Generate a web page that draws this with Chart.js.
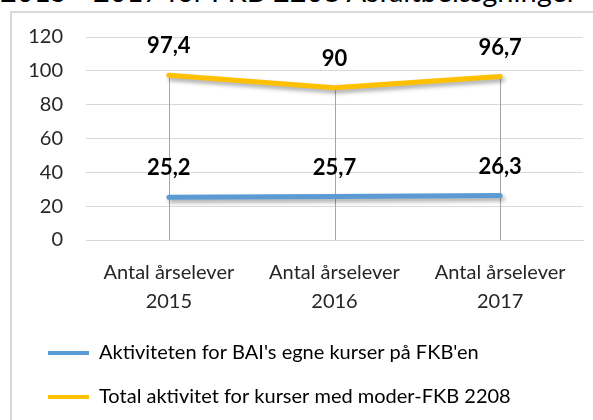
<!DOCTYPE html>
<html>
<head>
<meta charset="utf-8">
<script src="https://cdn.jsdelivr.net/npm/chart.js@4.4.0/dist/chart.umd.min.js"></script>
<style>
	html, body { margin: 0; padding: 0; width: 593px; height: 420px; overflow: hidden; background: #fff; }
	#title { position: absolute; left: 0; top: -23px; font: 29px/28px Lato, sans-serif; color: #000; white-space: nowrap; }
	#box { position: absolute; left: 10px; top: 11px; width: 600px; height: 420px; border-left: 2px solid #d9d9d9; border-top: 2px solid #d9d9d9; }
	#wrap { position: absolute; left: 0; top: 0; width: 581px; height: 404px; }
</style>
</head>
<body>
<div id="title">2015 - 2017 for FKB 2208 Asfaltbelægninger</div>
<div id="box"><div id="wrap"><canvas id="myChart"></canvas></div></div>
<script>
	// data
	const years = [ 'Antal årselever 2015', 'Antal årselever 2016', 'Antal årselever 2017' ];
	const yTicks = [ 0, 20, 40, 60, 80, 100, 120 ];
	const baiLabel = "Aktiviteten for BAI's egne kurser på FKB'en";
	const baiValues = [ 25.2, 25.7, 26.3 ];
	const totalLabel = 'Total aktivitet for kurser med moder-FKB 2208';
	const totalValues = [ 97.4, 90, 96.7 ];

	const FONT = 'Lato';

	// split "Antal årselever 2015" into two lines
	const labels = years.map((s) => {
		const i = s.lastIndexOf(' ');
		return [ s.slice(0, i), s.slice(i + 1) ];
	});

	// shadow under the lines, like excel
	const shadowPlugin = {
		id: 'shadow',
		beforeDatasetDraw(chart) {
			const ctx = chart.ctx;
			ctx.save();
			ctx.shadowColor = 'rgba(0,0,0,0.35)';
			ctx.shadowBlur = 4;
			ctx.shadowOffsetX = 2;
			ctx.shadowOffsetY = 3;
		},
		afterDatasetDraw(chart) {
			chart.ctx.restore();
		}
	};

	// drop lines from the highest point down to the axis
	const dropLines = {
		id: 'dropLines',
		beforeDatasetsDraw(chart) {
			const ctx = chart.ctx;
			const bottom = chart.chartArea.bottom;
			ctx.save();
			ctx.strokeStyle = '#a6a6a6';
			ctx.lineWidth = 1;
			for (let i = 0; i < labels.length; i++) {
				let top = bottom;
				chart.data.datasets.forEach((ds, d) => {
					const pt = chart.getDatasetMeta(d).data[i];
					if (pt.y < top) top = pt.y;
				});
				const x = Math.round(chart.getDatasetMeta(0).data[i].x) + 0.5;
				ctx.beginPath();
				ctx.moveTo(x, top);
				ctx.lineTo(x, bottom);
				ctx.stroke();
			}
			ctx.restore();
		}
	};

	// value labels above the points
	const valueLabels = {
		id: 'valueLabels',
		afterDatasetsDraw(chart) {
			const ctx = chart.ctx;
			ctx.save();
			ctx.font = 'bold 22px ' + FONT;
			ctx.fillStyle = '#000';
			ctx.textAlign = 'center';
			ctx.textBaseline = 'middle';
			chart.data.datasets.forEach((ds, d) => {
				chart.getDatasetMeta(d).data.forEach((pt, i) => {
					ctx.fillText(String(ds.data[i]).replace('.', ','), pt.x, pt.y - 29);
				});
			});
			ctx.restore();
		}
	};

	const ctx = document.getElementById('myChart').getContext('2d');
	const myChart = new Chart(ctx, {
		type: 'line',
		data: {
			labels,
			datasets: [
				{
					label: baiLabel,
					data: baiValues,
					borderColor: '#5b9bd5',
					backgroundColor: '#5b9bd5',
					borderWidth: 5,
					borderCapStyle: 'round',
					pointRadius: 0,
					tension: 0
				},
				{
					label: totalLabel,
					data: totalValues,
					borderColor: '#ffc000',
					backgroundColor: '#ffc000',
					borderWidth: 5,
					borderCapStyle: 'round',
					pointRadius: 0,
					tension: 0
				}
			]
		},
		options: {
			responsive: true,
			maintainAspectRatio: false,
			animation: false,
			layout: {
				padding: { left: 12, right: 10, top: 24, bottom: 0 }
			},
			scales: {
				x: {
					offset: true,
					afterFit: (scale) => {
						scale.height = 79;
						scale.paddingTop = 0;
						scale.paddingBottom = 0;
					},
					grid: { display: false, drawTicks: false },
					border: { display: true, color: '#d9d9d9', width: 1 },
					ticks: {
						color: '#262626',
						padding: 18,
						maxRotation: 0,
						font: { family: FONT, size: 20, lineHeight: 1.45 }
					}
				},
				y: {
					min: 0,
					max: 120,
					afterBuildTicks: (scale) => {
						scale.ticks = yTicks.map((v) => ({ value: v }));
					},
					afterFit: (scale) => {
						scale.width = 62;
						scale.paddingTop = 0;
						scale.paddingBottom = 0;
					},
					grid: { color: '#d9d9d9', drawTicks: false },
					border: { display: false },
					ticks: {
						color: '#262626',
						padding: 23,
						font: { family: FONT, size: 20 }
					}
				}
			},
			plugins: {
				tooltip: { enabled: false },
				legend: {
					position: 'bottom',
					align: 'start',
					labels: {
						color: '#000',
						boxWidth: 41,
						boxHeight: 4,
						padding: 24,
						font: { family: FONT, size: 20 },
						generateLabels: (chart) =>
							Chart.defaults.plugins.legend.labels.generateLabels(chart).map((l) => {
								l.lineWidth = 0;
								return l;
							})
					}
				}
			}
		},
		plugins: [ dropLines, shadowPlugin, valueLabels ]
	});
</script>
</body>
</html>
